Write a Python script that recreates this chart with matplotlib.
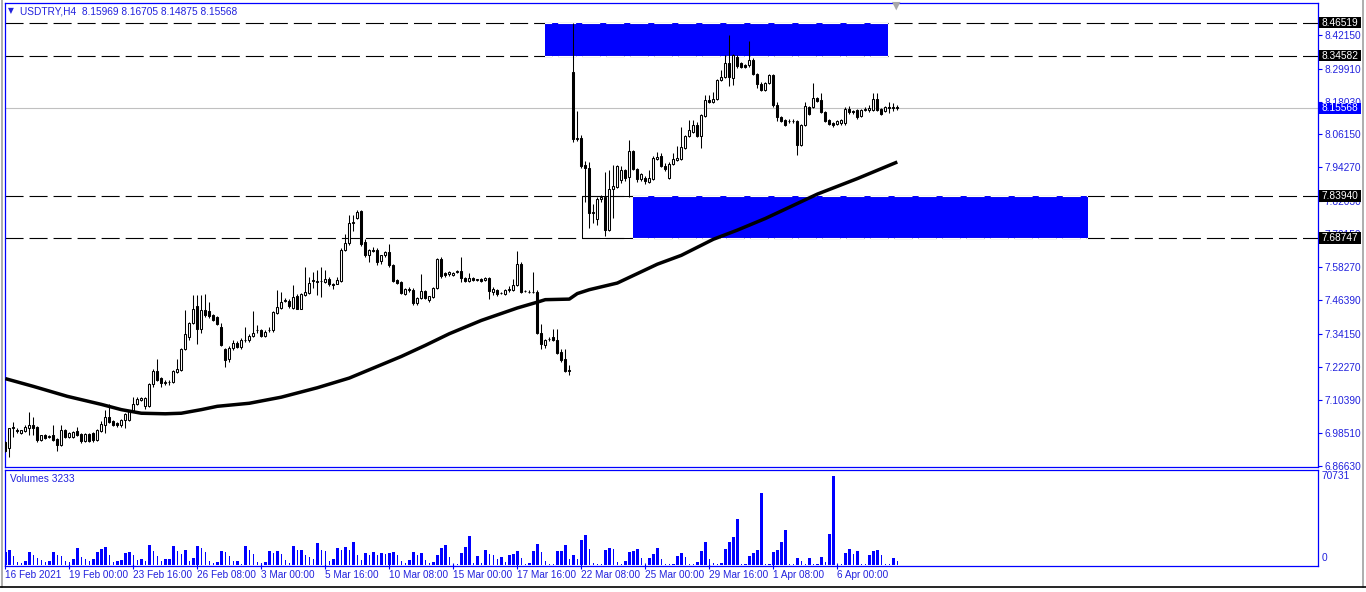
import matplotlib
matplotlib.use("Agg")
import matplotlib.pyplot as plt
import matplotlib.transforms as mtransforms
from matplotlib.patches import Rectangle
from matplotlib.lines import Line2D

plt.rcParams['font.family'] = ['Liberation Sans', 'DejaVu Sans']
plt.rcParams['lines.scale_dashes'] = False

W, H = 1366, 592
BLUE = '#0000ff'
TXT = '#2222dd'

title = "USDTRY,H4  8.15969 8.16705 8.14875 8.15568"

# H4 candles, 16 Feb 2021 08:00 .. 8 Apr 2021 12:00
opens = [
    6.950, 6.928, 7.003, 6.995, 6.984, 6.990, 7.000, 7.011, 7.005, 6.959,
    6.975, 6.970, 6.975, 6.963, 6.939, 6.993, 6.968, 6.970, 6.990, 6.980,
    6.954, 6.980, 6.982, 6.957, 6.990, 7.014, 7.041, 7.026, 7.019, 7.011,
    7.029, 7.031, 7.062, 7.087, 7.104, 7.080, 7.080, 7.159, 7.209, 7.183,
    7.165, 7.166, 7.167, 7.203, 7.212, 7.288, 7.330, 7.380, 7.441, 7.360,
    7.429, 7.424, 7.408, 7.402, 7.368, 7.288, 7.250, 7.290, 7.310, 7.295,
    7.319, 7.318, 7.335, 7.354, 7.355, 7.335, 7.354, 7.355, 7.417, 7.436,
    7.461, 7.460, 7.436, 7.477, 7.433, 7.481, 7.489, 7.533, 7.530, 7.531,
    7.528, 7.538, 7.523, 7.523, 7.533, 7.646, 7.668, 7.742, 7.761, 7.785,
    7.673, 7.625, 7.646, 7.646, 7.603, 7.625, 7.637, 7.589, 7.535, 7.529,
    7.487, 7.501, 7.501, 7.453, 7.472, 7.496, 7.462, 7.474, 7.508, 7.613,
    7.561, 7.556, 7.553, 7.566, 7.568, 7.544, 7.532, 7.544, 7.537, 7.539,
    7.535, 7.544, 7.493, 7.501, 7.490, 7.487, 7.500, 7.501, 7.517, 7.592,
    7.497, 7.494, 7.494, 7.493, 7.345, 7.300, 7.322, 7.330, 7.320, 7.276,
    7.252, 7.209, 8.288, 8.045, 8.047, 7.951, 7.942, 7.777, 7.758, 7.830,
    7.836, 7.716, 7.866, 7.872, 7.898, 7.932, 7.908, 8.001, 7.935, 7.902,
    7.906, 7.891, 7.902, 7.972, 7.983, 7.947, 7.906, 7.954, 7.971, 7.974,
    8.014, 8.055, 8.071, 8.095, 8.055, 8.127, 8.185, 8.179, 8.191, 8.257,
    8.269, 8.320, 8.266, 8.342, 8.320, 8.312, 8.312, 8.332, 8.281, 8.245,
    8.221, 8.247, 8.276, 8.167, 8.123, 8.113, 8.110, 8.110, 8.110, 8.023,
    8.095, 8.160, 8.160, 8.194, 8.185, 8.143, 8.113, 8.103, 8.098, 8.101,
    8.101, 8.155, 8.146, 8.149, 8.128, 8.149, 8.148, 8.149, 8.188, 8.152,
    8.147, 8.161, 8.159, 8.15969,
]
highs = [
    6.953, 7.002, 7.023, 7.000, 6.996, 7.011, 7.059, 7.041, 7.008, 6.978,
    6.980, 6.976, 7.014, 6.966, 7.014, 6.997, 6.988, 6.990, 7.005, 6.985,
    6.985, 6.984, 6.986, 6.997, 7.027, 7.065, 7.087, 7.030, 7.022, 7.035,
    7.057, 7.066, 7.113, 7.113, 7.115, 7.115, 7.163, 7.213, 7.252, 7.187,
    7.175, 7.176, 7.211, 7.252, 7.292, 7.426, 7.384, 7.481, 7.481, 7.481,
    7.484, 7.457, 7.412, 7.406, 7.379, 7.292, 7.296, 7.318, 7.316, 7.326,
    7.365, 7.340, 7.424, 7.372, 7.360, 7.356, 7.365, 7.424, 7.501, 7.494,
    7.470, 7.466, 7.517, 7.486, 7.490, 7.583, 7.547, 7.565, 7.571, 7.583,
    7.571, 7.548, 7.526, 7.547, 7.650, 7.703, 7.770, 7.770, 7.790, 7.790,
    7.683, 7.647, 7.656, 7.650, 7.628, 7.640, 7.665, 7.593, 7.540, 7.533,
    7.508, 7.510, 7.506, 7.476, 7.556, 7.500, 7.480, 7.512, 7.617, 7.620,
    7.565, 7.569, 7.566, 7.573, 7.619, 7.548, 7.560, 7.548, 7.541, 7.542,
    7.548, 7.548, 7.509, 7.505, 7.494, 7.505, 7.516, 7.538, 7.641, 7.600,
    7.501, 7.499, 7.565, 7.500, 7.376, 7.324, 7.332, 7.360, 7.360, 7.288,
    7.288, 7.228, 8.465, 8.146, 8.059, 7.967, 7.962, 7.811, 7.834, 7.842,
    7.926, 7.932, 7.951, 7.952, 7.946, 7.936, 8.041, 8.005, 7.939, 7.922,
    7.910, 7.932, 7.985, 7.998, 7.994, 7.958, 7.962, 7.994, 8.019, 8.087,
    8.059, 8.113, 8.113, 8.108, 8.135, 8.203, 8.203, 8.215, 8.261, 8.294,
    8.348, 8.420, 8.352, 8.348, 8.324, 8.316, 8.400, 8.336, 8.285, 8.249,
    8.250, 8.280, 8.280, 8.180, 8.127, 8.117, 8.116, 8.116, 8.114, 8.099,
    8.180, 8.164, 8.246, 8.198, 8.212, 8.147, 8.117, 8.107, 8.114, 8.117,
    8.159, 8.164, 8.150, 8.153, 8.153, 8.159, 8.166, 8.212, 8.212, 8.156,
    8.165, 8.180, 8.175, 8.16705,
]
lows = [
    6.915, 6.896, 6.968, 6.985, 6.980, 6.986, 6.975, 6.977, 6.950, 6.955,
    6.962, 6.966, 6.955, 6.920, 6.935, 6.964, 6.965, 6.966, 6.972, 6.948,
    6.950, 6.950, 6.950, 6.953, 6.987, 6.985, 7.019, 7.010, 7.006, 7.005,
    7.003, 7.027, 7.058, 7.083, 7.100, 7.070, 7.076, 7.150, 7.172, 7.150,
    7.157, 7.158, 7.163, 7.199, 7.208, 7.284, 7.320, 7.376, 7.306, 7.345,
    7.404, 7.400, 7.388, 7.372, 7.296, 7.222, 7.240, 7.282, 7.290, 7.288,
    7.312, 7.312, 7.330, 7.345, 7.330, 7.330, 7.348, 7.350, 7.412, 7.430,
    7.455, 7.436, 7.430, 7.430, 7.430, 7.477, 7.485, 7.506, 7.483, 7.475,
    7.524, 7.515, 7.503, 7.520, 7.528, 7.642, 7.664, 7.713, 7.757, 7.660,
    7.620, 7.601, 7.637, 7.590, 7.592, 7.620, 7.584, 7.528, 7.520, 7.484,
    7.482, 7.494, 7.445, 7.445, 7.468, 7.468, 7.458, 7.470, 7.504, 7.545,
    7.548, 7.552, 7.549, 7.560, 7.530, 7.530, 7.528, 7.531, 7.532, 7.529,
    7.531, 7.468, 7.482, 7.480, 7.484, 7.483, 7.491, 7.497, 7.513, 7.489,
    7.492, 7.489, 7.489, 7.340, 7.288, 7.290, 7.316, 7.316, 7.268, 7.240,
    7.205, 7.192, 8.035, 8.036, 7.940, 7.818, 7.722, 7.741, 7.734, 7.818,
    7.694, 7.712, 7.760, 7.868, 7.887, 7.895, 7.836, 7.934, 7.888, 7.895,
    7.884, 7.887, 7.898, 7.968, 7.943, 7.931, 7.902, 7.950, 7.967, 7.970,
    8.010, 8.051, 8.067, 8.051, 8.011, 8.123, 8.175, 8.175, 8.187, 8.253,
    8.265, 8.238, 8.240, 8.300, 8.300, 8.300, 8.306, 8.277, 8.230, 8.217,
    8.217, 8.243, 8.160, 8.110, 8.105, 8.093, 8.104, 8.104, 7.987, 8.019,
    8.091, 8.130, 8.156, 8.178, 8.139, 8.106, 8.094, 8.090, 8.094, 8.097,
    8.097, 8.137, 8.137, 8.119, 8.124, 8.145, 8.144, 8.145, 8.145, 8.131,
    8.143, 8.140, 8.146, 8.14875,
]
closes = [
    6.920, 7.000, 7.006, 6.990, 6.993, 7.004, 7.011, 7.001, 6.957, 6.975,
    6.966, 6.972, 6.959, 6.939, 6.993, 6.968, 6.984, 6.986, 6.975, 6.954,
    6.980, 6.954, 6.957, 6.993, 7.017, 7.041, 7.023, 7.014, 7.011, 7.031,
    7.053, 7.062, 7.087, 7.107, 7.111, 7.111, 7.159, 7.209, 7.176, 7.164,
    7.168, 7.168, 7.207, 7.215, 7.288, 7.342, 7.380, 7.432, 7.360, 7.429,
    7.408, 7.405, 7.393, 7.376, 7.300, 7.246, 7.290, 7.310, 7.295, 7.320,
    7.321, 7.335, 7.345, 7.357, 7.335, 7.350, 7.357, 7.420, 7.438, 7.456,
    7.464, 7.441, 7.474, 7.433, 7.487, 7.493, 7.525, 7.536, 7.533, 7.533,
    7.538, 7.520, 7.517, 7.535, 7.646, 7.668, 7.742, 7.745, 7.782, 7.665,
    7.625, 7.643, 7.641, 7.601, 7.625, 7.637, 7.589, 7.532, 7.525, 7.489,
    7.505, 7.502, 7.453, 7.472, 7.496, 7.472, 7.477, 7.508, 7.613, 7.549,
    7.553, 7.565, 7.563, 7.567, 7.544, 7.532, 7.544, 7.535, 7.538, 7.533,
    7.544, 7.496, 7.505, 7.484, 7.489, 7.501, 7.502, 7.517, 7.592, 7.493,
    7.496, 7.493, 7.493, 7.345, 7.304, 7.320, 7.324, 7.320, 7.272, 7.248,
    7.209, 7.211, 8.045, 8.047, 7.947, 7.942, 7.778, 7.780, 7.830, 7.836,
    7.716, 7.866, 7.875, 7.948, 7.932, 7.906, 8.001, 7.938, 7.902, 7.918,
    7.894, 7.903, 7.978, 7.980, 7.947, 7.935, 7.954, 7.972, 7.978, 8.017,
    8.055, 8.077, 8.095, 8.055, 8.131, 8.185, 8.179, 8.191, 8.257, 8.269,
    8.318, 8.269, 8.348, 8.308, 8.305, 8.306, 8.332, 8.281, 8.243, 8.221,
    8.247, 8.276, 8.167, 8.123, 8.110, 8.097, 8.111, 8.110, 8.023, 8.095,
    8.163, 8.137, 8.194, 8.182, 8.143, 8.110, 8.098, 8.095, 8.110, 8.113,
    8.155, 8.141, 8.141, 8.123, 8.149, 8.155, 8.157, 8.188, 8.149, 8.135,
    8.161, 8.157, 8.157, 8.15568,
]
volumes = [
    10030, 11350, 6600, 2110, 1580, 2640, 9770, 7390, 5540, 3430,
    1850, 2640, 9770, 7390, 6860, 2900, 2110, 4220, 12940, 6070,
    4750, 2640, 4220, 9770, 12140, 13730, 7390, 2110, 2900, 3430,
    8980, 9770, 7390, 3430, 4220, 2900, 15310, 10560, 6860, 2640,
    4220, 4490, 14520, 10560, 8180, 11350, 2640, 5020, 14520, 12940,
    9770, 2640, 1060, 1850, 10560, 9770, 6600, 2640, 2900, 790,
    14520, 11350, 8180, 2110, 1060, 1850, 10560, 8980, 10560, 8180,
    3430, 1320, 14520, 11350, 11880, 7390, 5810, 4220, 16900, 11350,
    10820, 2640, 4220, 12940, 11350, 13730, 11350, 17690, 7390, 3430,
    8980, 7390, 9770, 7390, 8980, 8180, 8980, 9770, 7390, 2640,
    1060, 3430, 9770, 7390, 8980, 3430, 1060, 1850, 7390, 12940,
    15310, 6070, 530, 400, 8980, 13730, 22440, 1060, 6600, 1060,
    11350, 8180, 7390, 4220, 5810, 2110, 7390, 8180, 10560, 5020,
    790, 1060, 10560, 16100, 9770, 2640, 790, 530, 10560, 10820,
    15310, 4220, 7390, 4220, 19270, 23230, 12140, 1060, 790, 530,
    11350, 12940, 12140, 2110, 790, 2640, 9770, 10560, 12140, 5020,
    790, 5020, 8180, 12940, 4220, 790, 260, 530, 6600, 8980,
    5810, 790, 530, 1850, 10560, 17690, 4220, 1060, 530, 1060,
    12140, 17690, 21650, 35900, 530, 790, 6600, 8980, 11350, 57290,
    530, 790, 9770, 11350, 17690, 27190, 260, 150, 5020, 2640,
    790, 5020, 200, 260, 5810, 1850, 24020, 70731, 790, 530,
    8980, 12140, 8180, 10560, 260, 150, 7390, 10560, 11350, 7390,
    260, 150, 5020, 3233,
]

# moving average (bar index, price)
ma_idx = [0, 7, 15.5, 24, 29, 34, 40, 44, 49, 53, 61, 69, 78, 86, 92, 99,
          105, 111, 119, 128, 133, 135, 141, 143, 146, 153, 158, 163, 169,
          177, 183, 190, 194, 203, 213, 223]
ma_val = [7.180, 7.152, 7.116, 7.087, 7.068, 7.055, 7.053, 7.055, 7.068,
          7.080, 7.091, 7.113, 7.147, 7.182, 7.218, 7.260, 7.300, 7.342,
          7.390, 7.435, 7.456, 7.465, 7.467, 7.487, 7.501, 7.525, 7.559,
          7.593, 7.625, 7.683, 7.716, 7.758, 7.785, 7.846, 7.902, 7.962]

date_idx = [0, 16, 32, 48, 64, 80, 96, 112, 128, 144, 160, 176, 192, 208]
date_labels = ["16 Feb 2021", "19 Feb 00:00", "23 Feb 16:00", "26 Feb 08:00",
               "3 Mar 00:00", "5 Mar 16:00", "10 Mar 08:00", "15 Mar 00:00",
               "17 Mar 16:00", "22 Mar 08:00", "25 Mar 00:00", "29 Mar 16:00",
               "1 Apr 08:00", "6 Apr 00:00"]

price_ticks = [8.42150, 8.29910, 8.18030, 8.06150, 7.94270, 7.82030, 7.70150,
               7.58270, 7.46390, 7.34150, 7.22270, 7.10390, 6.98510, 6.86630]

levels = [8.46519, 8.34582, 7.83940, 7.68747]
bid = 8.15568
zone_top = (134.9, 220.7, 8.34582, 8.46519)
zone_low = (156.9, 270.7, 7.68747, 7.83940)
outline = (144.05, 156.9, 7.68747, 7.83940)
vol_max = 70731
vol_last = 3233

fig = plt.figure(figsize=(W / 100, H / 100), dpi=100)


def fbox(x0, y0, x1, y1):
    return [x0 / W, 1 - y1 / H, (x1 - x0) / W, (y1 - y0) / H]


ax1 = fig.add_axes(fbox(5, 3, 1317.5, 466.5))
ax2 = fig.add_axes(fbox(5, 469.5, 1317.5, 566))

n = len(closes)
idx = list(range(n))

# candles
ax1.vlines(idx, lows, highs, color='black', lw=0.75, zorder=3)
bot = [min(o, c) for o, c in zip(opens, closes)]
hgt = [abs(c - o) for o, c in zip(opens, closes)]
fc = ['white' if c >= o else 'black' for o, c in zip(opens, closes)]
ax1.bar(idx, hgt, bottom=bot, width=0.5, color=fc, edgecolor='black',
        linewidth=0.75, zorder=4)

ax1.plot(ma_idx, ma_val, color='black', lw=2.5, zorder=5,
         solid_capstyle='butt', solid_joinstyle='round')

# zones
for x0, x1, y0, y1 in (zone_top, zone_low):
    ax1.add_patch(Rectangle((x0, y0), x1 - x0, y1 - y0, facecolor=BLUE,
                            edgecolor='none', zorder=1))
x0, x1, y0, y1 = outline
ax1.plot([x1, x0, x0, x1], [y1, y1, y0, y0], color='black', lw=0.75,
         zorder=2)

ax1.axhline(bid, color='#c0c0c0', lw=0.8, zorder=0.5)
for lv in levels:
    ax1.axhline(lv, color='black', lw=0.8, dashes=(13, 4.3), zorder=2)

# dashes turn white where they run over a blue zone
for x0, x1, y0, y1 in (zone_top, zone_low):
    for lv in (y0, y1):
        ln = ax1.axhline(lv, color='white', lw=0.8, dashes=(13, 4.3),
                         zorder=2.1)
        clip = Rectangle((x0, lv - 0.01), x1 - x0, 0.02,
                         transform=ax1.transData)
        ln.set_clip_path(clip)

ax1.set_xlim(-0.075, 328.05)
ax1.set_ylim(6.8627, 8.5360)
ax1.set_xticks([])
ax1.yaxis.tick_right()
ax1.set_yticks(price_ticks)
ax1.set_yticklabels([f"{t:.5f}" for t in price_ticks])
ax1.tick_params(axis='y', direction='out', length=3, width=0.8, color=BLUE,
                labelcolor=TXT, labelsize=7.3, pad=2)
for s in ax1.spines.values():
    s.set_color(BLUE)
    s.set_linewidth(0.9)

tag_tr = mtransforms.blended_transform_factory(fig.transFigure, ax1.transData)
for lv, bg in [(l, 'black') for l in levels] + [(bid, BLUE)]:
    ax1.add_patch(Rectangle((1319 / W, lv - 0.021), 42 / W, 0.042,
                            transform=tag_tr, facecolor=bg, edgecolor='none',
                            clip_on=False, zorder=10))
    ax1.text(1340 / W, lv, f"{lv:.5f}", transform=tag_tr, color='white',
             ha='center', va='center', fontsize=7.3, zorder=11, clip_on=False)

# volumes
wid = [0.7 if (i == 0 or volumes[i] > volumes[i - 1]) else 0.25
       for i in idx]
ax2.bar(idx, volumes, width=wid, color=BLUE, linewidth=0)
ax2.set_xlim(-0.075, 328.05)
ax2.set_ylim(-1100, 75600)
ax2.set_yticks([])
ax2.set_xticks(date_idx)
ax2.set_xticklabels(date_labels, ha='left')
ax2.tick_params(axis='x', direction='inout', length=4, width=0.8, color=BLUE,
                labelcolor=TXT, labelsize=7.2, pad=1)
for s in ax2.spines.values():
    s.set_color(BLUE)
    s.set_linewidth(0.9)

fig.text(1322 / W, 1 - 476 / H, str(vol_max), color=TXT, fontsize=7.3,
         va='center', ha='left')
fig.text(1322 / W, 1 - 558 / H, "0", color=TXT, fontsize=7.3,
         va='center', ha='left')
fig.text(10 / W, 1 - 479 / H, f"Volumes {vol_last}", color=TXT,
         fontsize=7.3, va='center', ha='left')

fig.text(8 / W, 1 - 11 / H, "\u25bc", color=TXT, fontsize=5.5,
         va='center', ha='left', family=['DejaVu Sans'])
fig.text(20 / W, 1 - 11 / H, title, color=TXT, fontsize=7.3,
         va='center', ha='left')
fig.text(896 / W, 1 - 6 / H, "\u25bc", color='#a8a8a8', fontsize=8,
         va='center', ha='center', family=['DejaVu Sans'])

# window frame
fig.add_artist(Line2D([1363 / W, 1363 / W], [1 - 587 / H, 1], color='#a0a0a0',
                      lw=1.2))
fig.add_artist(Line2D([1.5 / W, 1.5 / W], [1 - 587 / H, 1], color='#a0a0a0',
                      lw=1.2))
fig.add_artist(Line2D([0, 1], [1 - 587 / H, 1 - 587 / H], color='black',
                      lw=1.2))

fig.savefig("out.png", dpi=100)
